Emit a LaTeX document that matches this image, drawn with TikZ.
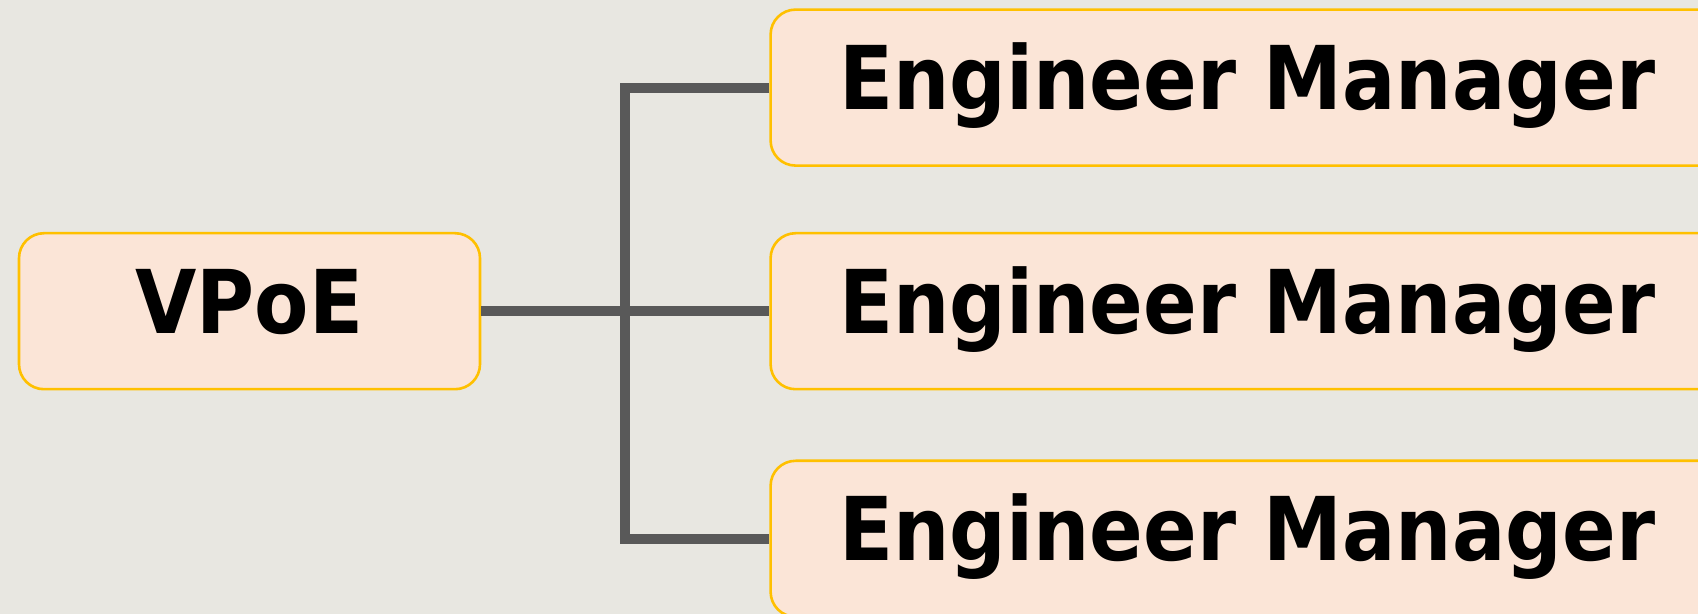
\documentclass[tikz,border=0pt]{standalone}
\usepackage{fontspec}
\setmainfont{DejaVu Sans Condensed}
\usetikzlibrary{
    positioning,
    calc
}
\definecolor{canvas}{HTML}{E8E7E1}
\definecolor{boxfill}{HTML}{FBE5D7}
\definecolor{boxline}{HTML}{FFC000}
\definecolor{linkgray}{HTML}{595959}

\begin{document}
\begin{tikzpicture}[
    role/.style={
      draw=boxline,
      line width=1.3pt,
      fill=boxfill,
      rounded corners=12.5pt,
      minimum height=78pt,
      text height=33pt,
      text depth=11pt,
      font=\fontsize{44}{50}\selectfont\bfseries
    },
    link/.style={draw=linkgray, line width=5pt}
  ]

  % canvas {{{
  \fill[canvas] (0,0) rectangle (849pt,-307pt);
  \useasboundingbox (0,0) rectangle (849pt,-307pt);
  % }}}

  \node[role, minimum width=230.5pt] (vpoe) at (124.75pt,-155.6pt) {VPoE};

  % managers {{{
  \node[role, minimum width=476.5pt, right=144pt of vpoe] (em2) {Engineer Manager};
  \node[role, minimum width=476.5pt, above=32.5pt of em2] (em1) {Engineer Manager};
  \node[role, minimum width=476.5pt, below=34.5pt of em2] (em3) {Engineer Manager};
  % }}}

  % fork {{{
  \coordinate (fork) at ($(vpoe.east)!0.5!(em2.west)$);
  \draw[link] (em1.west) -| (fork) |- (em3.west);
  \draw[link] (vpoe.east) -- (fork) -- (em2.west);
  % }}}

\end{tikzpicture}
\end{document}
